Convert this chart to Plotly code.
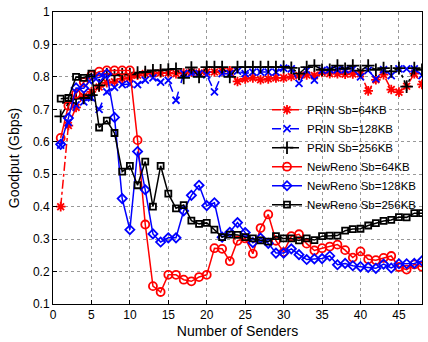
import plotly.graph_objects as go

senders = list(range(1, 49))

prin_64 = [0.40, 0.65, 0.706, 0.74, 0.754, 0.769, 0.782, 0.785, 0.794, 0.797, 0.805, 0.81,
           0.81, 0.812, 0.812, 0.81, 0.812, 0.815, 0.812, 0.815, 0.815, 0.818, 0.819, 0.786,
           0.794, 0.797, 0.791, 0.794, 0.797, 0.797, 0.801, 0.804, 0.806, 0.804, 0.814, 0.81,
           0.81, 0.808, 0.809, 0.81, 0.757, 0.791, 0.807, 0.761, 0.753, 0.771, 0.81, 0.777]
prin_128 = [0.59, 0.66, 0.714, 0.723, 0.735, 0.70, 0.754, 0.768, 0.776, 0.778, 0.776, 0.79,
            0.797, 0.784, 0.789, 0.728, 0.81, 0.81, 0.81, 0.806, 0.754, 0.81, 0.81, 0.818,
            0.81, 0.815, 0.815, 0.815, 0.815, 0.827, 0.825, 0.78, 0.82, 0.79, 0.82, 0.822,
            0.822, 0.822, 0.824, 0.80, 0.82, 0.794, 0.822, 0.804, 0.825, 0.825, 0.825, 0.804]
prin_256 = [0.678, 0.72, 0.733, 0.735, 0.744, 0.774, 0.808, 0.805, 0.808, 0.808, 0.813, 0.815,
            0.82, 0.82, 0.823, 0.825, 0.797, 0.829, 0.80, 0.83, 0.83, 0.83, 0.80, 0.83,
            0.83, 0.83, 0.83, 0.83, 0.83, 0.831, 0.828, 0.81, 0.83, 0.835, 0.822, 0.822,
            0.835, 0.825, 0.835, 0.819, 0.835, 0.822, 0.827, 0.817, 0.827, 0.77, 0.827, 0.822]
newreno_64 = [0.612, 0.711, 0.748, 0.784, 0.805, 0.816, 0.82, 0.82, 0.82, 0.82, 0.605, 0.345,
              0.155, 0.137, 0.19, 0.19, 0.175, 0.17, 0.183, 0.19, 0.272, 0.27, 0.232, 0.295,
              0.302, 0.255, 0.334, 0.376, 0.295, 0.26, 0.309, 0.315, 0.286, 0.265, 0.272, 0.277,
              0.283, 0.266, 0.243, 0.262, 0.238, 0.235, 0.242, 0.248, 0.214, 0.206, 0.222, 0.215]
newreno_128 = [0.592, 0.673, 0.766, 0.765, 0.794, 0.798, 0.809, 0.675, 0.425, 0.329, 0.57, 0.452,
               0.316, 0.291, 0.304, 0.304, 0.387, 0.435, 0.466, 0.403, 0.412, 0.306, 0.321, 0.351,
               0.32, 0.289, 0.303, 0.287, 0.257, 0.257, 0.27, 0.252, 0.237, 0.239, 0.24, 0.248,
               0.221, 0.225, 0.218, 0.215, 0.213, 0.21, 0.223, 0.211, 0.224, 0.224, 0.225, 0.233]
newreno_256 = [0.733, 0.735, 0.80, 0.797, 0.81, 0.644, 0.665, 0.627, 0.508, 0.526, 0.466, 0.539,
               0.40, 0.526, 0.44, 0.395, 0.405, 0.357, 0.347, 0.35, 0.329, 0.306, 0.314, 0.313,
               0.306, 0.302, 0.296, 0.292, 0.309, 0.302, 0.302, 0.296, 0.302, 0.297, 0.309, 0.311,
               0.311, 0.326, 0.331, 0.332, 0.342, 0.349, 0.356, 0.359, 0.368, 0.367, 0.38, 0.38]

series = [
    ("PRIN Sb=64KB", prin_64, "#ff0000", "dashdot", "asterisk-open", 8),
    ("PRIN Sb=128KB", prin_128, "#0000ff", "dash", "x-thin-open", 7),
    ("PRIN Sb=256KB", prin_256, "#000000", "dashdot", "cross-thin-open", 9),
    ("NewReno Sb=64KB", newreno_64, "#ff0000", "solid", "circle-open", 8),
    ("NewReno Sb=128KB", newreno_128, "#0000ff", "solid", "diamond-open", 7),
    ("NewReno Sb=256KB", newreno_256, "#000000", "solid", "square-open", 6),
]

fig = go.Figure()
for name, vals, color, dash, sym, size in series:
    fig.add_trace(go.Scatter(
        x=senders, y=vals, name=name, mode="lines+markers",
        line=dict(color=color, dash=dash, width=1.5),
        marker=dict(symbol=sym, size=size, color=color, line=dict(color=color, width=1.8)),
    ))

axis_common = dict(
    showline=True, linecolor="black", linewidth=1, mirror=True,
    ticks="inside", ticklen=4, tickcolor="black",
    showgrid=True, gridcolor="#999999", griddash="dot", gridwidth=1,
    zeroline=False, tickfont=dict(size=12, color="black", family="Liberation Sans"),
)

fig.update_layout(
    width=428, height=342,
    margin=dict(l=53, r=5, t=7, b=38),
    paper_bgcolor="white", plot_bgcolor="white",
    font=dict(family="Liberation Sans", color="black"),
    showlegend=True,
    legend=dict(x=1.0, y=0.715, xanchor="right", yanchor="top",
                bgcolor="rgba(255,255,255,0)", borderwidth=0,
                font=dict(size=11.5, family="Liberation Sans"),
                tracegroupgap=0, itemwidth=30),
    xaxis=dict(range=[0, 48], dtick=5, tick0=0,
               title=dict(text="Number of Senders", font=dict(size=14), standoff=4),
               **axis_common),
    yaxis=dict(range=[0.1, 1.0], dtick=0.1, tick0=0.1,
               title=dict(text="Goodput (Gbps)", font=dict(size=14), standoff=10),
               **axis_common),
)

fig.write_html("out.html")
